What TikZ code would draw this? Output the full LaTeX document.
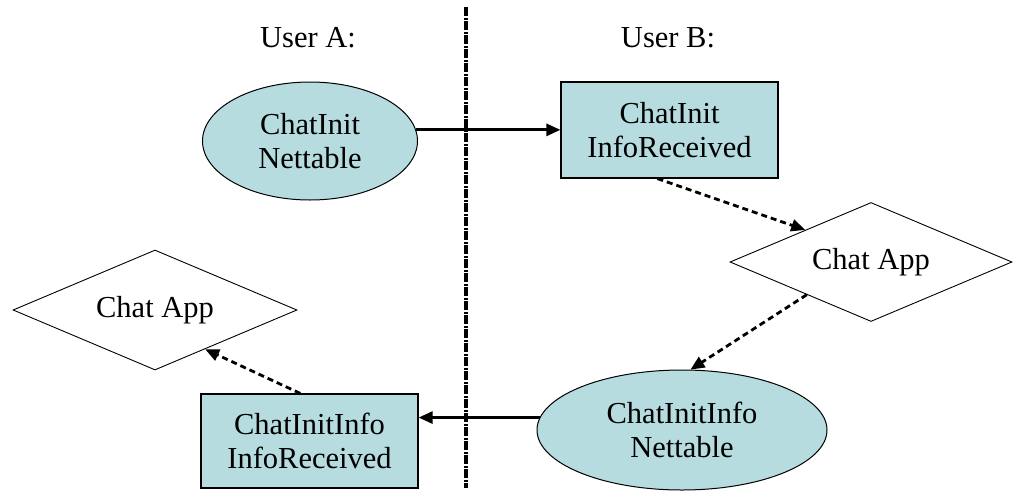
\documentclass[tikz,border=0pt]{standalone}
\usepackage{fontspec}
\setmainfont{Liberation Serif}
\usetikzlibrary{shapes.geometric,arrows.meta}
\definecolor{boxfill}{RGB}{182,220,224}
\tikzset{
  lbl/.style={font=\fontsize{30.5}{34.5}\selectfont, align=center, text=black},
  ellnode/.style={ellipse, draw=black, line width=1pt, fill=boxfill, inner sep=0pt, lbl},
  recnode/.style={rectangle, draw=black, line width=1.2pt, fill=boxfill, inner sep=0pt, lbl},
  dianode/.style={diamond, aspect=2.37, draw=black, line width=0.9pt, fill=white, inner sep=0pt, lbl},
  solidarrow/.style={line width=2.8pt, -{Triangle[length=14pt,width=12pt]}},
  dasharrow/.style={line width=2.8pt, dash pattern=on 6pt off 4pt, -{Triangle[length=14pt,width=12pt]}},
  divider/.style={line width=3.4pt, dash pattern=on 9pt off 1.5pt on 2pt off 1.5pt}
}
\begin{document}
\begin{tikzpicture}[x=1pt,y=-1pt]
\useasboundingbox[fill=white] (0,0) rectangle (1013,491);
% divider
\coordinate (ltop) at (466,7);
\coordinate (lbot) at (466,488);
\draw[divider] (ltop) -- (lbot);
% headers
\node[lbl] (ua) at (308,38) {User A:};
\node[lbl] (ub) at (668,38) {User B:};
% nodes
\node[ellnode, minimum width=215pt, minimum height=118pt] (e1) at (310,141) {ChatInit\\Nettable};
\node[recnode, minimum width=217pt, minimum height=96pt] (r1) at (669.5,130) {ChatInit\\InfoReceived};
\node[dianode, minimum width=282pt, minimum height=119pt] (d1) at (871,262) {Chat App};
\node[ellnode, minimum width=290pt, minimum height=120pt] (e2) at (682,430) {ChatInitInfo\\Nettable};
\node[recnode, minimum width=217pt, minimum height=94pt] (r2) at (309.5,441) {ChatInitInfo\\InfoReceived};
\node[dianode, minimum width=284pt, minimum height=120pt] (d2) at (155,310) {Chat App};
% connectors
\draw[solidarrow] (e1.6) -- (e1.6 -| r1.west);
\draw[dasharrow] (r1.256) -- (d1.154);
\draw[dasharrow] (d1.207) -- (e2.82);
\draw[solidarrow] (e2.175) -- (e2.175 -| r2.east);
\draw[dasharrow] (r2.101) -- (d2.322);
\end{tikzpicture}
\end{document}
